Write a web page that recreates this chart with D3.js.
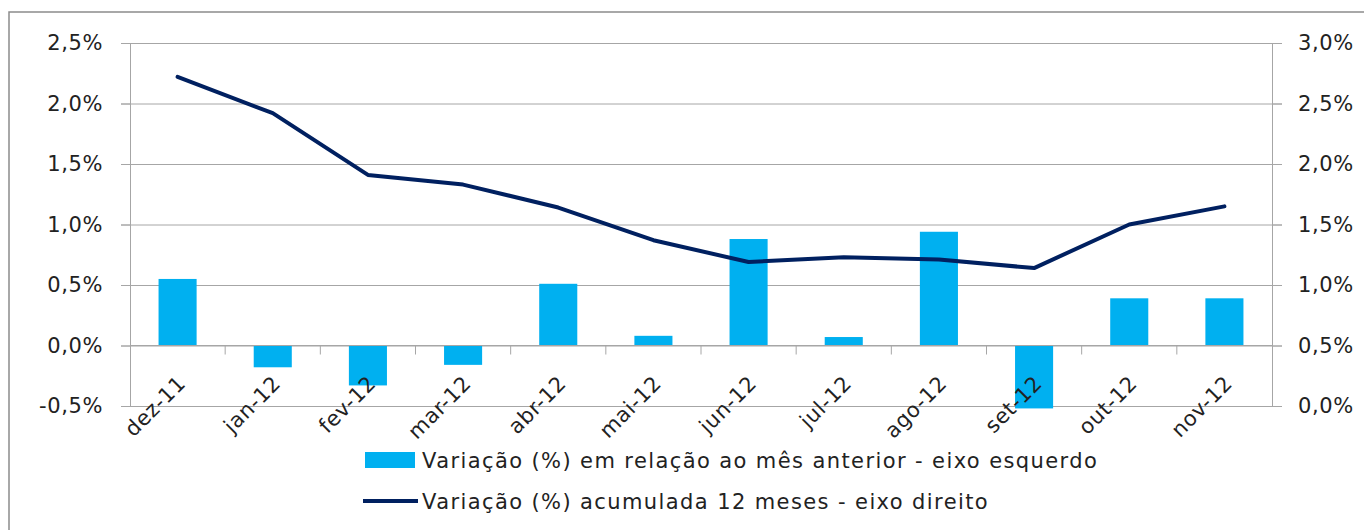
<!DOCTYPE html>
<html>
<head>
<meta charset="utf-8">
<script src="https://cdn.jsdelivr.net/npm/d3@7"></script>
<style>
  body { margin: 0; background: #fff; }
  svg { display: block; font-family: "DejaVu Sans", sans-serif; }
  .lbl { font-size: 21px; letter-spacing: 0.6px; }
  .leg { font-size: 21px; letter-spacing: 1.4px; }
</style>
</head>
<body>
<svg width="1364" height="530"></svg>
<script>
const svg = d3.select("svg"),
  width = +svg.attr("width"),
  height = +svg.attr("height");

// Dados
const months = ["dez-11", "jan-12", "fev-12", "mar-12", "abr-12", "mai-12",
  "jun-12", "jul-12", "ago-12", "set-12", "out-12", "nov-12"];
const monthly = [0.55, -0.18, -0.33, -0.16, 0.51, 0.08, 0.88, 0.07, 0.94, -0.52, 0.39, 0.39];
const accum12 = [2.72, 2.42, 1.91, 1.83, 1.64, 1.37, 1.19, 1.23, 1.21, 1.14, 1.50, 1.65];
const leftTicks = [-0.5, 0, 0.5, 1.0, 1.5, 2.0, 2.5];
const rightTicks = [0, 0.5, 1.0, 1.5, 2.0, 2.5, 3.0];
const legendLabels = [
  "Variação (%) em relação ao mês anterior - eixo esquerdo",
  "Variação (%) acumulada 12 meses - eixo direito"
];

const barColor = "#00b0f0", lineColor = "#002060", gridColor = "#a6a6a6", textColor = "#222";
const plot = { left: 130, right: 1272, top: 43, bottom: 406 };

// formato brasileiro: vírgula decimal e hífen como sinal
const pct = d => d.toFixed(1).replace(".", ",") + "%";

// Moldura
svg.append("path")
  .attr("d", `M9,${height + 5}V12H${width + 5}`)
  .attr("fill", "none")
  .attr("stroke", "#8c8c8c")
  .attr("stroke-width", 1.5);

// Escalas
const xBand = d3.scaleBand().domain(months).range([plot.left, plot.right]);
const xBar = d3.scaleBand().domain(months).range([plot.left, plot.right])
  .paddingInner(0.6).paddingOuter(0.3);
const yL = d3.scaleLinear().domain([-0.5, 2.5]).range([plot.bottom, plot.top]);
const yR = d3.scaleLinear().domain([0, 3.0]).range([plot.bottom, plot.top]);

// Grade
svg.append("g")
  .attr("transform", `translate(${plot.right + 10},0)`)
  .call(d3.axisLeft(yL).tickValues(leftTicks).tickSize(plot.right + 10 - (plot.left - 9)).tickFormat(""))
  .call(g => g.select(".domain").remove())
  .call(g => g.selectAll("line").attr("stroke", gridColor));

// Eixo esquerdo
svg.append("g")
  .attr("transform", `translate(${plot.left},0)`)
  .call(d3.axisLeft(yL).tickValues(leftTicks).tickSize(9).tickSizeOuter(0).tickPadding(18).tickFormat(pct))
  .call(g => g.select(".domain").attr("stroke", gridColor))
  .call(g => g.selectAll("line").attr("stroke", gridColor))
  .call(g => g.selectAll("text").attr("class", "lbl").attr("fill", textColor));

// Eixo direito
svg.append("g")
  .attr("transform", `translate(${plot.right},0)`)
  .call(d3.axisRight(yR).tickValues(rightTicks).tickSize(10).tickSizeOuter(0).tickPadding(16).tickFormat(pct))
  .call(g => g.select(".domain").attr("stroke", gridColor))
  .call(g => g.selectAll("line").attr("stroke", gridColor))
  .call(g => g.selectAll("text").attr("class", "lbl").attr("fill", textColor));

svg.selectAll("g[font-family]").attr("font-family", null).attr("font-size", null);

// Barras
svg.append("g")
  .selectAll("rect")
  .data(months)
  .join("rect")
  .attr("x", d => xBar(d))
  .attr("width", xBar.bandwidth())
  .attr("y", (d, i) => yL(Math.max(0, monthly[i])))
  .attr("height", (d, i) => Math.abs(yL(monthly[i]) - yL(0)))
  .attr("fill", barColor);

// Eixo das categorias (em 0)
const xAxis = svg.append("g").attr("transform", `translate(0,${yL(0)})`);
xAxis.append("line")
  .attr("x1", plot.left).attr("x2", plot.right)
  .attr("stroke", gridColor);
xAxis.selectAll("line.tick")
  .data(months.slice(1))
  .join("line")
  .attr("class", "tick")
  .attr("x1", d => xBand(d)).attr("x2", d => xBand(d))
  .attr("y1", 0).attr("y2", 9)
  .attr("stroke", gridColor);

svg.append("g")
  .selectAll("text")
  .data(months)
  .join("text")
  .attr("class", "lbl")
  .attr("transform", d => `translate(${xBand(d) + xBand.bandwidth() / 2 + 4},${yL(0) + 34}) rotate(-45)`)
  .attr("text-anchor", "end")
  .attr("dy", "0.35em")
  .attr("fill", textColor)
  .text(d => d);

// Linha acumulada
const line = d3.line()
  .x(d => xBand(d[0]) + xBand.bandwidth() / 2)
  .y(d => yR(d[1]));

svg.append("path")
  .datum(months.map((m, i) => [m, accum12[i]]))
  .attr("d", line)
  .attr("fill", "none")
  .attr("stroke", lineColor)
  .attr("stroke-width", 4)
  .attr("stroke-linejoin", "round")
  .attr("stroke-linecap", "round");

// Legenda
const legend = svg.append("g");
legend.append("rect")
  .attr("x", 365).attr("y", 452)
  .attr("width", 50).attr("height", 16)
  .attr("fill", barColor);
legend.append("line")
  .attr("x1", 363).attr("x2", 418)
  .attr("y1", 501).attr("y2", 501)
  .attr("stroke", lineColor)
  .attr("stroke-width", 4);
legend.selectAll("text")
  .data(legendLabels)
  .join("text")
  .attr("class", "leg")
  .attr("x", 422)
  .attr("y", (d, i) => 468 + i * 41)
  .attr("fill", textColor)
  .text(d => d);
</script>
</body>
</html>
